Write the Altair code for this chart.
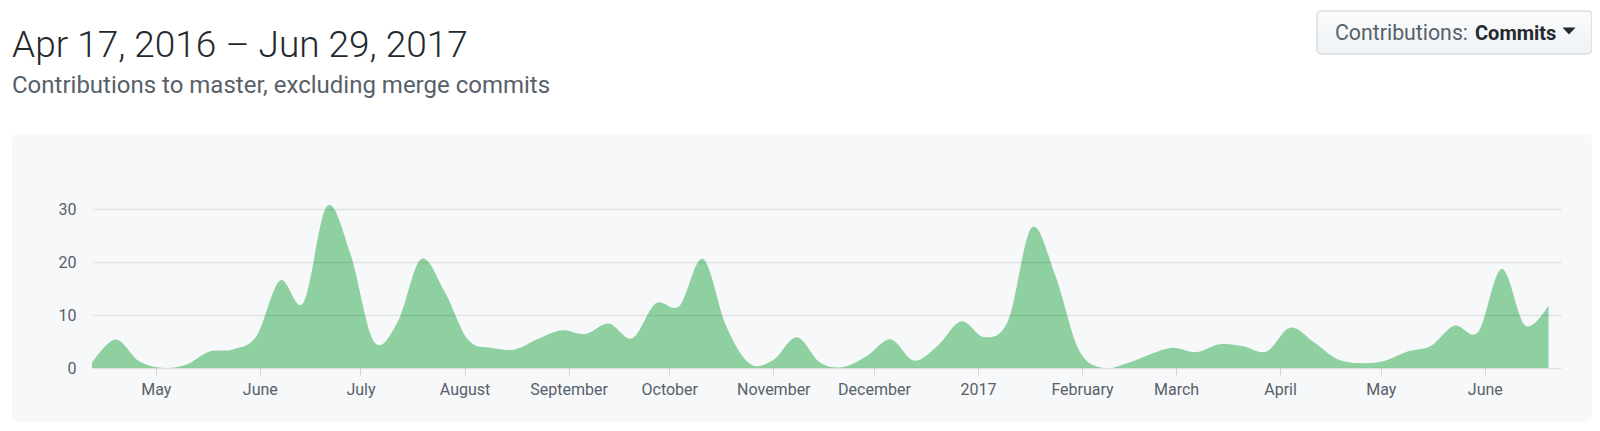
import altair as alt
import pandas as pd

# ---- text content ----
title_text = "Apr 17, 2016 – Jun 29, 2017"
subtitle_text = "Contributions to master, excluding merge commits"
button_label = "Contributions:"
button_value = "Commits"

# ---- data: weekly commits ----
week_start = "2016-04-12"
commits = [
    1.0, 5.4, 1.3, 0.0, 0.6, 3.1, 3.5, 6.0, 16.5, 12.3,
    30.5, 21.5, 5.0, 8.6, 20.5, 14.5, 5.4, 3.8, 3.5, 5.5,
    7.1, 6.4, 8.4, 5.6, 12.2, 11.7, 20.6, 7.9, 0.8, 1.5,
    5.8, 1.0, 0.2, 2.3, 5.4, 1.4, 4.2, 8.8, 5.8, 9.0,
    26.5, 17.5, 3.5, 0.0, 0.8, 2.5, 3.8, 3.0, 4.5, 4.1,
    3.1, 7.6, 4.9, 1.7, 0.9, 1.3, 3.1, 4.2, 8.0, 6.8,
    18.7, 8.0, 11.8,
]
y_ticks = [0, 10, 20, 30]
month_ticks = [
    (2016, 5), (2016, 6), (2016, 7), (2016, 8), (2016, 9), (2016, 10),
    (2016, 11), (2016, 12), (2017, 1), (2017, 2), (2017, 3), (2017, 4),
    (2017, 5), (2017, 6),
]

dates = pd.date_range(week_start, periods=len(commits), freq="7D")
df = pd.DataFrame({"week": dates.strftime("%Y-%m-%d"), "commits": commits})

FONT = "Roboto"
GRID = "rgba(0,0,0,0.085)"
PLOT_H = 170
Y_MAX = 30 * PLOT_H / 159  # keeps the 30 gridline where the reference has it

x_scale = alt.Scale(
    type="utc",
    domain=[
        alt.DateTime(year=2016, month=4, date=12, utc=True),
        alt.DateTime(year=2017, month=6, date=23, hours=17, utc=True),
    ],
)

area = alt.Chart(df).mark_area(
    interpolate="cardinal", tension=0, color="#28a745", fillOpacity=0.5, clip=True
).encode(
    x=alt.X(
        "week:T",
        scale=x_scale,
        title=None,
        axis=alt.Axis(
            values=[alt.DateTime(year=y, month=m, date=1, utc=True) for y, m in month_ticks],
            labelExpr="utcFormat(datum.value, utcmonth(datum.value) == 0 ? '%Y' : '%B')",
            grid=False,
            domain=False,
            ticks=True,
            tickSize=7,
            tickWidth=1,
            tickColor="rgba(0,0,0,0.14)",
            labelBaseline="alphabetic",
            labelPadding=19,
            labelFontSize=16,
            labelFont=FONT,
            labelColor="#586069",
            labelOverlap=False,
            labelFlush=False,
            zindex=1,
        ),
    ),
    y=alt.Y(
        "commits:Q",
        scale=alt.Scale(domain=[0, Y_MAX], nice=False),
        title=None,
        axis=alt.Axis(
            values=y_ticks,
            grid=True,
            gridColor=GRID,
            gridWidth=1.5,
            domain=False,
            ticks=False,
            labelPadding=16,
            labelFontSize=16,
            labelFont=FONT,
            labelColor="#586069",
            zindex=1,
        ),
    ),
)

one = lambda s: pd.DataFrame({"label": [s]})

panel = alt.Chart(one("panel")).mark_rect(color="#f6f8fa", cornerRadius=6).encode(
    x=alt.value(-80), x2=alt.value(1500), y=alt.value(-64), y2=alt.value(224)
)

button = alt.Chart(one("button")).mark_rect(
    fill=alt.Gradient(
        gradient="linear",
        stops=[
            alt.GradientStop(color="#fafbfc", offset=0),
            alt.GradientStop(color="#eff3f6", offset=1),
        ],
        x1=0, x2=0, y1=0, y2=1,
    ),
    stroke="#c9cdd1",
    strokeWidth=1,
    cornerRadius=4,
).encode(x=alt.value(1225), x2=alt.value(1500), y=alt.value(-187), y2=alt.value(-144))

title = alt.Chart(one(title_text)).mark_text(
    align="left", baseline="alphabetic", font=FONT, fontSize=37, fontWeight=300, color="#24292e"
).encode(x=alt.value(-80), y=alt.value(-141), text="label:N")

subtitle = alt.Chart(one(subtitle_text)).mark_text(
    align="left", baseline="alphabetic", font=FONT, fontSize=24, color="#586069"
).encode(x=alt.value(-80), y=alt.value(-105), text="label:N")

btn_label = alt.Chart(one(button_label)).mark_text(
    align="left", baseline="alphabetic", font=FONT, fontSize=21.3, color="#586069"
).encode(x=alt.value(1243), y=alt.value(-158), text="label:N")

btn_value = alt.Chart(one(button_value)).mark_text(
    align="left", baseline="alphabetic", font=FONT, fontSize=20, fontWeight="bold", color="#24292e"
).encode(x=alt.value(1383), y=alt.value(-158), text="label:N")

caret = alt.Chart(one("caret")).mark_point(
    shape="M-1,-0.55L1,-0.55L0,0.55Z", filled=True, color="#24292e", opacity=1, size=169
).encode(x=alt.value(1477), y=alt.value(-167))

chart = alt.layer(panel, button, title, subtitle, btn_label, btn_value, caret, area).properties(
    width=1469,
    height=PLOT_H,
    autosize=alt.AutoSizeParams(type="none"),
    padding={"left": 84, "top": 190, "right": 31, "bottom": 54},
    background="white",
).configure_view(stroke="transparent")

chart.save("out.html", embed_options={"renderer": "svg", "actions": False})
